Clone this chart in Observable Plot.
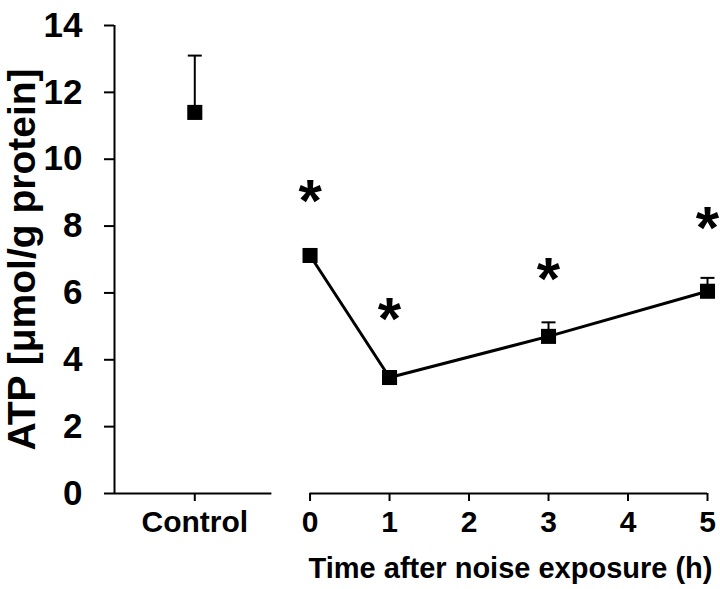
<!DOCTYPE html>
<html>
<head>
<meta charset="utf-8">
<script src="https://cdn.jsdelivr.net/npm/d3@7"></script>
<script src="https://cdn.jsdelivr.net/npm/@observablehq/plot@0.6"></script>
<style>
  html, body { margin: 0; padding: 0; background: #fff; }
  svg { font-family: "Liberation Sans", Arial, sans-serif; }
</style>
</head>
<body>
<div id="chart"></div>
<script>
// ---- data ----
const tickValues = [-1.45, 0, 1, 2, 3, 4, 5];
const tickLabels = ["Control", "0", "1", "2", "3", "4", "5"];
const yTicks = [0, 2, 4, 6, 8, 10, 12, 14];

const controlX = [-1.45];
const controlMean = [11.4];
const controlUpper = [13.1];

const hours = [0, 1, 3, 5];
const atpMean = [7.12, 3.47, 4.7, 6.05];
const atpUpper = [7.12, 3.47, 5.12, 6.45];
const starY = [9.22, 5.7, 6.9, 8.42];

const axisSegments = [[-2.46, -0.48], [0, 5]];

const yLabel = "ATP [\u03bcmol/g protein]";
const xLabel = "Time after noise exposure (h)";

// ---- build tables ----
const control = controlX.map((x, i) => ({x, y: controlMean[i], up: controlUpper[i]}));
const series = hours.map((x, i) => ({x, y: atpMean[i], up: atpUpper[i], star: starY[i]}));
const withErr = series.filter(d => d.up > d.y).concat(control);
const labelOf = new Map(tickValues.map((v, i) => [v, tickLabels[i]]));

const capSymbol = {
  draw(context, size) {
    const r = Math.sqrt(size / Math.PI);
    context.moveTo(-r, 0);
    context.lineTo(r, 0);
  }
};

const font = "'Liberation Sans', Arial, sans-serif";

const chart = Plot.plot({
  width: 720,
  height: 589,
  marginLeft: 114,
  marginRight: 13,
  marginTop: 25,
  marginBottom: 96,
  style: {fontFamily: font, color: "#000", background: "#fff"},
  x: {domain: [-2.46, 5]},
  y: {domain: [0, 14]},
  marks: [
    // axes
    Plot.ruleX([-2.46], {x: d => d, y1: () => 0, y2: () => 14, strokeWidth: 2}),
    Plot.ruleY(axisSegments, {y: () => 0, x1: d => d[0], x2: d => d[1], strokeWidth: 2}),
    Plot.axisY({ticks: yTicks, tickSize: 10, tickPadding: 22, fontSize: 35, fontWeight: "bold", label: null, strokeWidth: 2}),
    Plot.axisX({ticks: tickValues, tickFormat: d => labelOf.get(d), tickSize: 8, tickPadding: 9, fontSize: 30, fontWeight: "bold", label: null, strokeWidth: 2}),
    // error bars
    Plot.ruleX(withErr, {x: "x", y1: "y", y2: "up", strokeWidth: 2}),
    Plot.dot(withErr, {x: "x", y: "up", symbol: capSymbol, r: 7, stroke: "black", strokeWidth: 2, fill: "none"}),
    // line
    Plot.line(series, {x: "x", y: "y", stroke: "black", strokeWidth: 3}),
    // squares
    Plot.dot(series.concat(control), {x: "x", y: "y", symbol: "square", r: 8.5, fill: "black", stroke: "none"}),
    // asterisks
    Plot.text(series, {x: "x", y: "star", text: () => "*", fontSize: 60, fontWeight: "bold", dy: 17, lineAnchor: "middle"}),
    // axis titles
    Plot.text([yLabel], {frameAnchor: "left", dx: -80, dy: 0, rotate: -90, textAnchor: "middle", lineAnchor: "bottom", fontSize: 39, fontWeight: "bold"}),
    Plot.text([xLabel], {frameAnchor: "bottom-right", dx: 5, dy: 84, textAnchor: "end", lineAnchor: "bottom", fontSize: 29, fontWeight: "bold"})
  ]
});
document.getElementById("chart").append(chart);
</script>
</body>
</html>
